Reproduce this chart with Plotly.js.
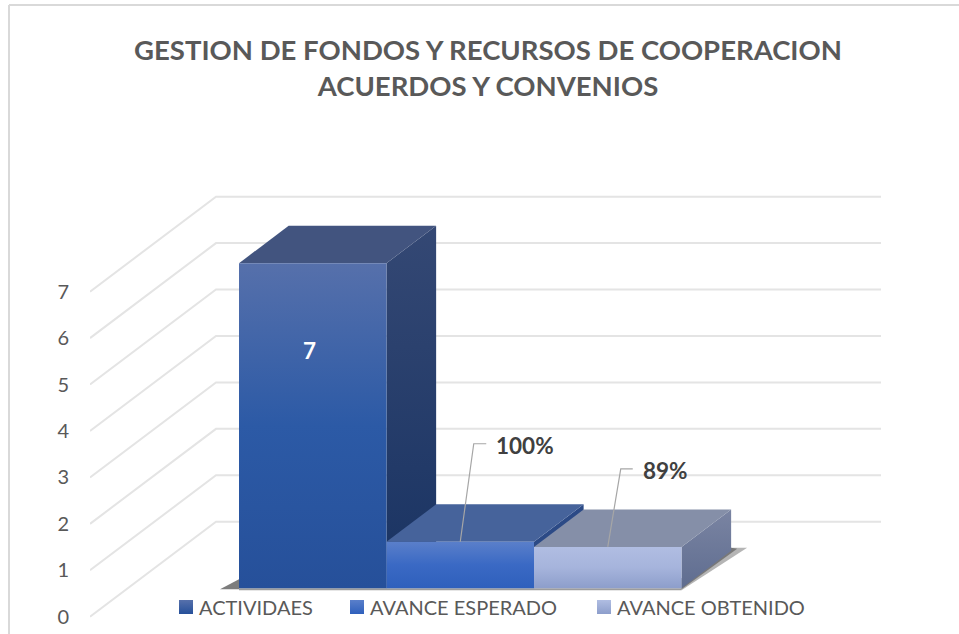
<!DOCTYPE html>
<html><head><meta charset="utf-8">
<script src="https://cdn.plot.ly/plotly-3.0.1.min.js"></script>
<style>html,body{margin:0;padding:0;background:#fff}#c{width:959px;height:634px}</style>
</head><body><div id="c"></div>
<script>
const categories = ['ACTIVIDAES','AVANCE ESPERADO','AVANCE OBTENIDO'];
const values = [7, 1, 0.89];
const labels = ['7','100%','89%'];
const yTicks = [0,1,2,3,4,5,6,7];
const frontColors = [['#5670ab','#2c5aa6','#26509a'],['#5a7fca','#3a69c4','#2f60bc'],['#b0bde2','#a6b4dc','#8d9ecb']];
const topColors = ['#42547f','#46639b','#858fa8'];
const sideColors = [['#344874','#193362'],['#2c4a86','#2c4a86'],['#7a84a2','#5f6d90']];

const pxX = 147.5, pxY = 46.43;          // pixels per category slot / per value unit
const plotL = 90, plotR = 881, plotT = 180, plotB = 624, zeroPx = 616.7, barLeftPx = 239;
const xMin = (plotL-barLeftPx)/pxX, xMax = (plotR-barLeftPx)/pxX;
const yMin = (zeroPx-plotB)/pxY, yMax = (zeroPx-plotT)/pxY;
const kX = 126/pxX, kY = 95/pxY;         // oblique projection of the depth axis
const d0 = 0.30, d1 = 0.694;             // bar depth span
const X = (i,d)=> i+(d-d0)*kX;
const Y = (v,d)=> v+d*kY;
const pX = px=> xMin+(px-plotL)/pxX;
const pY = px=> (zeroPx-px)/pxY;

const traces = [];
const poly = (pts,fill,grad)=>{
  const t={type:'scatter',mode:'lines',x:pts.map(p=>p[0]),y:pts.map(p=>p[1]),fill:'toself',
    line:{width:0,color:fill||'rgba(0,0,0,0)'},hoverinfo:'skip',showlegend:false};
  if(grad){
    const n=grad.length;
    t.fillgradient={type:'vertical',colorscale:grad.map((c,k)=>[k/(n-1),c]).reverse().map((e,k)=>[k/(n-1),e[1]])};
  } else t.fillcolor=fill;
  traces.push(t);
};
// gridlines on side wall and back wall
yTicks.forEach(v=>{
  traces.push({type:'scatter',mode:'lines',x:[xMin,xMin+kX,xMax],y:[v,Y(v,1),Y(v,1)],
    line:{color:'#e4e4e4',width:2},hoverinfo:'skip',showlegend:false});
});
// floor shadows
poly([[X(0,d0)-19/pxX,Y(0,d0)-1/pxY],[X(0,d0),Y(0,d0)+9/pxY],[X(0,d0),Y(0,d0)-1/pxY]],'rgba(70,70,70,0.7)');
poly([[X(0,d0),Y(0,d0)],[X(3,d0),Y(0,d0)],[X(3,d0),Y(0,d0)-2/pxY],[X(0,d0),Y(0,d0)-2/pxY]],'rgba(90,90,90,0.6)');
poly([[X(3,d0),Y(0,d0)-2/pxY],[X(3,d1)+16/pxX,Y(0,d1)+3/pxY],[X(3,d1),Y(0,d1)+3/pxY],[X(3,d0),Y(0,d0)+10/pxY]],'rgba(90,90,90,0.45)');
poly([[X(3,d0),Y(0,d0)-1/pxY],[X(3,d1)+6/pxX,Y(0,d1)+2/pxY],[X(3,d1),Y(0,d1)+3/pxY],[X(3,d0),Y(0,d0)+10/pxY]],'rgba(60,60,60,0.5)');
// bars
values.forEach((v,i)=>{
  poly([[X(i+1,d0),Y(0,d0)],[X(i+1,d1),Y(0,d1)],[X(i+1,d1),Y(v,d1)],[X(i+1,d0),Y(v,d0)],[X(i+1,d0),Y(0,d0)]],null,sideColors[i]);
  poly([[X(i,d0),Y(v,d0)],[X(i+1,d0),Y(v,d0)],[X(i+1,d1),Y(v,d1)],[X(i,d1),Y(v,d1)],[X(i,d0),Y(v,d0)]],topColors[i]);
  poly([[X(i,d0),Y(0,d0)],[X(i+1,d0),Y(0,d0)],[X(i+1,d0),Y(v,d0)],[X(i,d0),Y(v,d0)],[X(i,d0),Y(0,d0)]],null,frontColors[i]);
});
// leader lines
const leaders = [null,[13.5,98,26],[13,78,25]];
const annotations = [];
leaders.forEach((l,i)=>{
  if(!l) return;
  const cx=X(i+0.5,d0), vy=Y(values[i],d0);
  traces.push({type:'scatter',mode:'lines',x:[cx,cx+l[0]/pxX,cx+l[2]/pxX],y:[vy,vy+l[1]/pxY,vy+l[1]/pxY],
    line:{color:'#a6a6a6',width:1.2},hoverinfo:'skip',showlegend:false});
  annotations.push({x:cx+(l[2]+8)/pxX,y:vy+(l[1]-2)/pxY,xref:'x',yref:'y',text:'<b>'+labels[i]+'</b>',showarrow:false,xanchor:'left',yanchor:'middle',
    font:{family:'Lato',size:22.5,color:'#404040'}});
});
annotations.push({x:X(0.475,d0),y:Y(values[0]*0.73,d0),xref:'x',yref:'y',text:'<b>'+labels[0]+'</b>',showarrow:false,
  font:{family:'Lato',size:22.5,color:'#ffffff'}});
// legend entries
const legendNames=['legend','legend2','legend3'];
const legendX=[159,330,577];
const swatchX=[186,357,604];
const legendPx=607;
categories.forEach((c,i)=>{
  traces.push({type:'scatter',mode:'markers',x:[pX(swatchX[i])],y:[pY(legendPx)],showlegend:false,cliponaxis:false,
    marker:{symbol:'square',size:14,color:frontColors[i][0],gradient:{type:'vertical',color:frontColors[i][2]}},hoverinfo:'skip'});
  traces.push({type:'scatter',mode:'markers',name:c,x:[null],y:[null],legend:legendNames[i],showlegend:true,
    marker:{symbol:'square',size:14,color:'rgba(0,0,0,0)'},hoverinfo:'skip'});
});
const layout={
  width:959,height:634,paper_bgcolor:'#fff',plot_bgcolor:'rgba(0,0,0,0)',
  margin:{l:plotL,r:959-plotR,t:plotT,b:634-plotB,autoexpand:false},
  font:{family:'Lato',color:'#595959'},
  title:{text:'<b>GESTION DE FONDOS Y RECURSOS DE COOPERACION<br>ACUERDOS Y CONVENIOS</b>',x:488/959,xanchor:'center',y:1-60/634,yanchor:'top',
    font:{family:'Lato',size:27.5,color:'#595959'}},
  xaxis:{range:[xMin,xMax],visible:false,fixedrange:true},
  yaxis:{range:[yMin,yMax],tickmode:'array',tickvals:yTicks,ticktext:yTicks.map(String),showgrid:false,zeroline:false,showline:false,ticks:'',
    ticklabelstandoff:20,tickfont:{family:'Lato',size:20,color:'#595959'},fixedrange:true},
  annotations,
  shapes:[
    {type:'line',xref:'paper',yref:'paper',x0:-81/791,x1:869/791,y0:(634-10-5)/444,y1:(634-10-5)/444,line:{color:'#d9d9d9',width:2}},
    {type:'line',xref:'paper',yref:'paper',x0:-81/791,x1:-81/791,y0:-10/444,y1:(634-10-5)/444,line:{color:'#d9d9d9',width:2}}
  ]
};
legendNames.forEach((n,i)=>{
  layout[n]={orientation:'h',x:(legendX[i]-plotL)/791,xanchor:'left',y:(plotB-legendPx)/444,yanchor:'middle',bgcolor:'rgba(0,0,0,0)',
    font:{family:'Lato',size:20,color:'#595959'},itemclick:false,itemdoubleclick:false};
});
Plotly.newPlot('c',traces,layout,{displayModeBar:false,staticPlot:true});
</script></body></html>
